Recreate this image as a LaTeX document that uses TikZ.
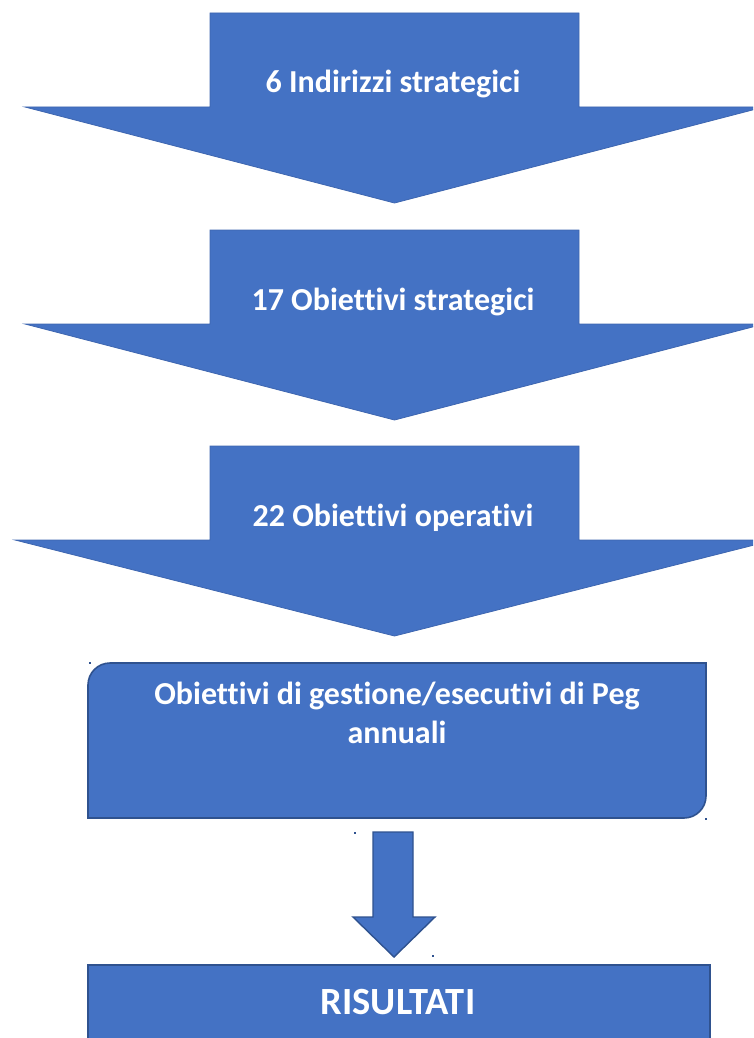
\documentclass[tikz,border=0pt]{standalone}
\usepackage{fontspec}
\setmainfont{Carlito}[Ligatures=NoCommon]
\definecolor{officeblue}{HTML}{4472C4}
\definecolor{edgeblue}{HTML}{2F528F}
\definecolor{softedge}{HTML}{3E66B0}
\begin{document}
\begin{tikzpicture}[x=1pt,y=-1pt,
  bigarrow/.style={fill=officeblue, draw=softedge, line width=0.8pt, line join=miter},
  framed/.style={fill=officeblue, draw=edgeblue, line width=1.6pt, line join=miter},
  lbl/.style={text=white, font=\bfseries\fontsize{32}{39}\selectfont, align=center, inner sep=0pt, anchor=base},
  handle/.style={fill=edgeblue}]
\useasboundingbox (0,0) rectangle (753,1038);
\clip (0,0) rectangle (753,1038);

% three large block arrows
\foreach \tp/\lw/\rw in {13/25/764, 230/25/764, 446/15/774}{
  \draw[bigarrow] (210,\tp) -- (579,\tp) -- (579,\tp+94) -- (\rw,\tp+94)
    -- (394.5,\tp+190) -- (\lw,\tp+94) -- (210,\tp+94) -- cycle;
}
\node[lbl] (t1) at (393,93) {6 Indirizzi strategici};
\node[lbl] (t2) at (393,310) {17 Obiettivi strategici};
\node[lbl] (t3) at (393,526) {22 Obiettivi operativi};

% rounded box (top-left and bottom-right corners rounded)
\draw[framed] (88,818) -- (88,685) .. controls (88,672.85) and (97.85,663) .. (110,663)
  -- (706,663) -- (706,796) .. controls (706,808.15) and (696.15,818) .. (684,818) -- cycle;
\node[lbl] (tbox) at (397,743) {Obiettivi di gestione/esecutivi di Peg\\annuali};

% small arrow
\draw[framed, line width=1.4pt] (373,832) -- (413,832) -- (413,917) -- (435,917)
  -- (394,957) -- (353,917) -- (373,917) -- cycle;

% results box
\draw[framed, line width=2pt] (88,965) rectangle (710,1045);
\node[lbl, font=\bfseries\fontsize{38.5}{46}\selectfont] (tres) at (398,1014) {RISULTATI};

% selection handles
\fill[handle] (89,662) rectangle (91,664);
\fill[handle] (705,818) rectangle (707,820);
\fill[handle] (354,832) rectangle (356,834);
\fill[handle] (432,955) rectangle (434,957);
\end{tikzpicture}
\end{document}
